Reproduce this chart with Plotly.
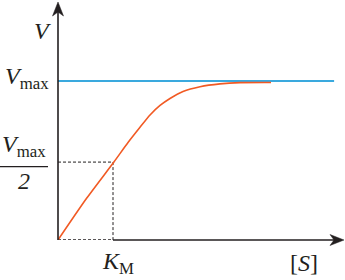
import plotly.graph_objects as go

# ---- data (units: K_M = 1, V_max = 1) ----
s_values = [0, 0.52, 1.02, 1.273, 1.491, 1.673, 1.855, 2.036, 2.273, 2.582, 2.945, 3.309, 3.873]
v_values = [0, 0.262, 0.492, 0.613, 0.709, 0.786, 0.846, 0.890, 0.934, 0.964, 0.982, 0.990, 0.991]
vmax_level = [1.0]
vmax_extent = [0.0, 5.02]
km_value = [1.0]
half_level = [0.49]

FONT = "Liberation Serif, DejaVu Serif, serif"
INK = "#231f20"
BLUE = "#3aa9de"
ORANGE = "#f15a24"

# plot area geometry (pixels) -> data ranges
L, R, T, B = 58, 1, 2, 40
W, H = 345, 280
PX_X, PX_Y = 55.0, 159.0
xr = [0, (W - L - R) / PX_X]
yr = [0, (H - T - B) / PX_Y]

fig = go.Figure()

fig.add_trace(go.Scatter(x=vmax_extent, y=[vmax_level[0]] * 2, mode="lines",
                         line=dict(color=BLUE, width=2), hoverinfo="skip"))
fig.add_trace(go.Scatter(x=[0, km_value[0], km_value[0]],
                         y=[half_level[0], half_level[0], 0], mode="lines",
                         line=dict(color=INK, width=1, dash="3px,2px"), hoverinfo="skip"))
fig.add_trace(go.Scatter(x=[0, km_value[0]], y=[0, 0], mode="lines",
                         line=dict(color=INK, width=1.4, dash="3px,2px"), hoverinfo="skip"))
fig.add_trace(go.Scatter(x=s_values, y=v_values, mode="lines",
                         line=dict(color=ORANGE, width=1.6, shape="spline", smoothing=0.6),
                         hoverinfo="skip"))

shapes = []
shapes.append(dict(type="line", xref="paper", yref="paper", x0=0, x1=0, y0=0, y1=0.97,
                   line=dict(color=INK, width=1.6)))
x_km_paper = km_value[0] * PX_X / (W - L - R)
shapes.append(dict(type="line", xref="paper", yref="paper", x0=x_km_paper, x1=0.98, y0=0, y1=0,
                   line=dict(color=INK, width=1.6)))
shapes.append(dict(type="path", xref="paper", yref="paper", xsizemode="pixel", ysizemode="pixel",
                   xanchor=0, yanchor=1, path="M0,0 L5.5,-14 L0,-10 L-5.5,-14 Z",
                   fillcolor=INK, line=dict(color=INK, width=0.5)))
shapes.append(dict(type="path", xref="paper", yref="paper", xsizemode="pixel", ysizemode="pixel",
                   xanchor=1, yanchor=0, path="M0,0 L-14,5.5 L-10,0 L-14,-5.5 Z",
                   fillcolor=INK, line=dict(color=INK, width=0.5)))

def px2paper_x(px):
    return (px - L) / (W - L - R)
def px2paper_y(py):
    return (H - B - py) / (H - T - B)

shapes.append(dict(type="line", xref="paper", yref="paper",
                   x0=px2paper_x(0), x1=px2paper_x(48), y0=px2paper_y(166.7), y1=px2paper_y(166.7),
                   line=dict(color=INK, width=1.2)))

def ann(text, px, py, size=24):
    return dict(text=text, xref="paper", yref="paper", x=px2paper_x(px), y=px2paper_y(py),
                xanchor="center", yanchor="middle", showarrow=False,
                font=dict(family=FONT, size=size, color=INK))

annotations = [
    ann("<i>V</i>", 42.5, 31),
    ann("<i>V</i><sub>max</sub>", 27, 78),
    ann("<i>V</i><sub>max</sub>", 24, 146),
    ann("<i>2</i>", 24, 181),
    ann("<i>K</i><sub>M</sub>", 118, 263),
    ann("[<i>S</i>]", 303.5, 263),
]

fig.update_layout(
    width=W, height=H, margin=dict(l=L, r=R, t=T, b=B),
    paper_bgcolor="white", plot_bgcolor="white", showlegend=False,
    font=dict(family=FONT),
    xaxis=dict(range=xr, showgrid=False, zeroline=False, showticklabels=False,
               showline=False, ticks="", fixedrange=True),
    yaxis=dict(range=yr, showgrid=False, zeroline=False, showticklabels=False,
               showline=False, ticks="", fixedrange=True),
    shapes=shapes, annotations=annotations,
)

fig.write_html("out.html")
